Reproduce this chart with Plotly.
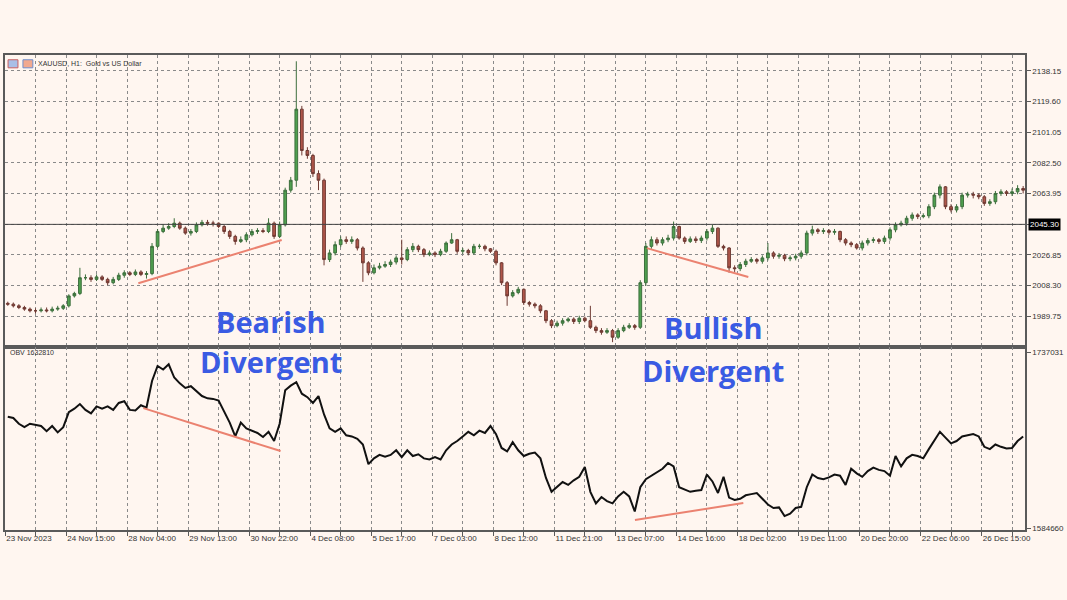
import plotly.graph_objects as go
from plotly.subplots import make_subplots

# ---------------- data (3-hour bars) ----------------
BAR_HOURS = 3
X_LABELS = ["23 Nov 2023", "24 Nov 15:00", "28 Nov 04:00", "29 Nov 13:00", "30 Nov 22:00",
            "4 Dec 08:00", "5 Dec 17:00", "7 Dec 03:00", "8 Dec 12:00", "11 Dec 21:00",
            "13 Dec 07:00", "14 Dec 16:00", "18 Dec 02:00", "19 Dec 11:00", "20 Dec 20:00",
            "22 Dec 06:00", "26 Dec 15:00"]
LABEL_STEP_HOURS = 33

OPEN = [1997.5, 1997, 1996, 1995, 1994, 1993, 1993, 1993.5, 1993, 1994,
        1994.5, 1996, 2002, 2003.5, 2013, 2013, 2012, 2013.5, 2012, 2010,
        2012, 2014.5, 2016, 2015, 2016.5, 2015, 2015.5, 2032, 2041, 2043,
        2044, 2046, 2043, 2040, 2041, 2045, 2046.5, 2046, 2046,
        2044, 2041, 2038, 2035, 2036, 2039, 2041, 2041.5, 2041, 2046,
        2038, 2045, 2066, 2072, 2115, 2090, 2087, 2076, 2072, 2024,
        2028, 2033, 2036, 2035, 2036, 2031, 2022, 2016, 2019, 2020,
        2021, 2022.5, 2025, 2024, 2030, 2032, 2030, 2027, 2028, 2027,
        2029, 2034, 2036, 2029, 2029.5, 2028, 2032, 2032, 2030.5, 2029,
        2022, 2010, 2002, 2004, 2006, 1998, 1997, 1996, 1993, 1987,
        1984, 1985.5, 1987, 1988, 1986.5, 1988.5, 1987, 1983, 1981, 1980,
        1981, 1977, 1981, 1983, 1984, 1983, 2010, 2032, 2036,
        2034, 2036, 2037, 2044, 2037, 2035, 2036.5, 2035.5, 2037, 2041,
        2043, 2032, 2031, 2019, 2018.5, 2021, 2023, 2024, 2023, 2025,
        2028, 2026, 2026.5, 2024.5, 2025, 2026, 2028, 2040, 2042, 2041,
        2041.5, 2040.5, 2041, 2036, 2034, 2033, 2031, 2034, 2035.5, 2036,
        2035, 2037, 2042, 2045, 2046, 2049, 2051, 2050, 2050.5, 2056,
        2063, 2068, 2056, 2054, 2056, 2063, 2063.5, 2063, 2062, 2058,
        2059, 2064, 2065, 2064, 2065, 2067]
HIGH = [1998.5, 1998, 1997, 1996, 1995, 1994.5, 1995, 1995, 1995.5, 1996,
        1997, 2003, 2004.5, 2019, 2015, 2014.5, 2015, 2014.5, 2013, 2013.5,
        2016, 2017.5, 2017, 2018, 2017.5, 2017, 2034, 2042.5, 2045, 2046,
        2049, 2047, 2044, 2042.5, 2046.5, 2048, 2048, 2047.5, 2046.5,
        2045, 2042, 2039, 2038, 2040.5, 2042.5, 2043, 2043, 2049, 2047,
        2047, 2067.5, 2074, 2144, 2117, 2092, 2088, 2078, 2073, 2030,
        2035, 2038, 2038, 2038, 2037, 2032, 2023, 2021, 2022, 2023,
        2024, 2026.5, 2036, 2031.5, 2034, 2033, 2031, 2029.5, 2029, 2030.5,
        2035, 2040, 2036.5, 2031, 2030.5, 2033.5, 2033.5, 2033, 2031, 2030,
        2022.5, 2011, 2005.5, 2007.5, 2006.5, 1999, 1998, 1997, 1993.5, 1988,
        1987, 1988.5, 1989, 1989, 1990, 1989.5, 1996, 1984, 1982.5, 1982.5,
        1982, 1982.5, 1984.5, 1985.5, 1985, 2011.5, 2034, 2038, 2037.5,
        2037.5, 2039, 2047, 2044.5, 2038, 2038, 2038, 2038.5, 2042.5, 2045,
        2043.5, 2033, 2031.5, 2020.5, 2022.5, 2024.5, 2025.5, 2025, 2026.5, 2034,
        2029, 2028, 2027.5, 2026.5, 2027.5, 2029.5, 2041.5, 2044.5, 2043, 2043,
        2042.5, 2042.5, 2041.5, 2037, 2035, 2034, 2035.5, 2037, 2037.5, 2037,
        2038.5, 2043.5, 2046.5, 2047.5, 2050.5, 2052.5, 2052, 2052, 2057.5, 2064.5,
        2069.5, 2068.5, 2057.5, 2057.5, 2064.5, 2065, 2065, 2064, 2063, 2060.5,
        2065.5, 2066.5, 2066, 2067, 2069, 2068.5]
LOW = [1996, 1995, 1994, 1993, 1992, 1991.5, 1992, 1992, 1992, 1993,
       1993.5, 1995, 2001, 2002.5, 2011.5, 2010.5, 2011, 2011, 2008.5, 2009,
       2011, 2013, 2014, 2014, 2014, 2012.5, 2014.5, 2031, 2040, 2042,
       2043, 2042, 2039, 2038.5, 2040, 2044, 2044.5, 2044, 2043,
       2039.5, 2036.5, 2033, 2034, 2034.5, 2038, 2039.5, 2040, 2040, 2036.5,
       2037, 2044, 2064.5, 2068, 2087, 2085, 2074, 2066, 2020.5, 2022.5,
       2026.5, 2031.5, 2033.5, 2033.5, 2029.5, 2010.5, 2014.5, 2015, 2018, 2019,
       2019.5, 2021, 2021, 2023, 2028.5, 2028.5, 2025.5, 2026, 2025.5, 2026,
       2028, 2033.5, 2027.5, 2027.5, 2026.5, 2027, 2030.5, 2029, 2028, 2020.5,
       2008.5, 1996, 2001, 2003, 1996.5, 1995.5, 1994.5, 1991.5, 1985.5, 1982.5,
       1983, 1984, 1986, 1985, 1985, 1986, 1982, 1979.5, 1978.5, 1979,
       1974, 1976, 1980, 1982, 1981.5, 1982, 2008, 2030.5, 2032.5,
       2032.5, 2034.5, 2035.5, 2036, 2033.5, 2034, 2034, 2034, 2035.5, 2039.5,
       2031, 2029.5, 2016, 2016.5, 2017, 2019.5, 2022, 2021.5, 2021.5, 2023.5,
       2024.5, 2024.5, 2023, 2023, 2023.5, 2024.5, 2026.5, 2038.5, 2039.5, 2039.5,
       2039, 2039, 2034.5, 2032.5, 2031.5, 2030, 2029.5, 2032.5, 2034, 2033.5,
       2033.5, 2035.5, 2040.5, 2044, 2044.5, 2047.5, 2048.5, 2049, 2049, 2054.5,
       2061, 2054.5, 2052.5, 2052.5, 2054.5, 2061.5, 2061, 2060.5, 2056.5, 2056.5,
       2057.5, 2062.5, 2062.5, 2062.5, 2063.5, 2064]
CLOSE = [1997, 1996, 1995, 1994, 1993, 1993, 1993.5, 1993, 1994, 1994.5,
         1996, 2002, 2003.5, 2013, 2013, 2012, 2013.5, 2012, 2010, 2012,
         2014.5, 2016, 2015, 2016.5, 2015, 2015.5, 2032, 2041, 2043, 2044,
         2046, 2043, 2040, 2041, 2045, 2046.5, 2046, 2046, 2044,
         2041, 2038, 2035, 2036, 2039, 2041, 2041.5, 2041, 2046, 2038,
         2045, 2066, 2072, 2115, 2090, 2087, 2076, 2072, 2024, 2028,
         2033, 2036, 2035, 2036, 2031, 2022, 2016, 2019, 2020, 2021,
         2022.5, 2025, 2024, 2030, 2032, 2030, 2027, 2028, 2027, 2029,
         2034, 2036, 2029, 2029.5, 2028, 2032, 2032, 2030.5, 2029, 2022,
         2010, 2002, 2004, 2006, 1998, 1997, 1996, 1993, 1987, 1984,
         1985.5, 1987, 1988, 1986.5, 1988.5, 1987, 1983, 1981, 1980, 1981,
         1977, 1981, 1983, 1984, 1983, 2010, 2032, 2036, 2034,
         2036, 2037, 2044, 2037, 2035, 2036.5, 2035.5, 2037, 2041, 2043,
         2032, 2031, 2019, 2018.5, 2021, 2023, 2024, 2023, 2025, 2028,
         2026, 2026.5, 2024.5, 2025, 2026, 2028, 2040, 2042, 2041, 2041.5,
         2040.5, 2041, 2036, 2034, 2033, 2031, 2034, 2035.5, 2036, 2035,
         2037, 2042, 2045, 2046, 2049, 2051, 2050, 2050.5, 2056, 2063,
         2068, 2056, 2054, 2056, 2063, 2063.5, 2063, 2062, 2058, 2059,
         2064, 2065, 2064, 2065, 2067, 2066]
OBV_K = [1681, 1680, 1675, 1672, 1675, 1674, 1673, 1668.5, 1673, 1667.5,
         1672, 1685, 1688, 1692, 1687, 1684, 1690, 1688, 1690, 1687,
         1693, 1694.5, 1687, 1686.5, 1691, 1689, 1712, 1725, 1722, 1726.5,
         1715, 1710, 1706, 1707.5, 1703, 1699, 1697, 1696.5, 1695,
         1686, 1676, 1664, 1676, 1671, 1669, 1667, 1663.5, 1668, 1660,
         1675, 1704, 1708, 1711, 1701, 1698, 1693, 1699, 1683, 1671,
         1668, 1671, 1665, 1664, 1662, 1657, 1640, 1645, 1648, 1646.5,
         1648, 1652, 1646, 1652, 1647, 1648.5, 1645, 1644, 1646, 1644,
         1652, 1657, 1660, 1664, 1668, 1665, 1669, 1667, 1673, 1666,
         1654, 1651, 1659, 1652, 1647, 1649, 1650, 1645, 1628, 1616,
         1620, 1624.5, 1622, 1626, 1629, 1637.5, 1616, 1606, 1611.5, 1608,
         1606, 1612, 1616, 1612, 1599, 1620, 1627, 1630, 1633,
         1636, 1641, 1638, 1620, 1618, 1616, 1617, 1617.5, 1631, 1625,
         1615, 1629, 1611, 1609, 1610, 1613, 1614, 1615, 1610, 1605,
         1602, 1602.5, 1595, 1597, 1602, 1603, 1620, 1631, 1628, 1627,
         1628.5, 1631, 1630, 1622, 1636, 1632, 1629, 1634, 1637, 1635,
         1634, 1630, 1647, 1638, 1645, 1648, 1647, 1645, 1653, 1660,
         1668, 1663, 1658, 1660, 1664, 1665, 1666, 1664, 1655, 1653,
         1657, 1655, 1653.5, 1654, 1660, 1664]

PRICE_LEVELS = [2138.15, 2119.60, 2101.05, 2082.50, 2063.95, 2045.40, 2026.85, 2008.30, 1989.75]
PRICE_LABELS = ["2138.15", "2119.60", "2101.05", "2082.50", "2063.95", "", "2026.85", "2008.30", "1989.75"]
CURRENT_PRICE = 2045.30
OBV_LEVELS = [1737031, 1584660]
OBV_CURRENT = 1632810

# divergence lines (hour, value)
PRICE_LINE_BEAR = ([72.1, 149.6], [2009.7, 2035.8])
PRICE_LINE_BULL = ([347.0, 401.9], [2030.9, 2013.4])
OBV_LINE_BEAR = ([74.8, 149.0], [1688550, 1651330])
OBV_LINE_BULL = ([340.6, 399.2], [1591590, 1606310])

# ---------------- figure ----------------
n = len(CLOSE)
x = [BAR_HOURS * i + BAR_HOURS / 2 for i in range(n)]
obv = [v * 1000 for v in OBV_K]

grid_vals = [LABEL_STEP_HOURS / 2 * k for k in range(2 * len(X_LABELS))]
grid_text = []
for k in range(len(grid_vals)):
    grid_text.append(X_LABELS[k // 2] if k % 2 == 0 else "")

BG = "#FFF6F0"
GRID = "#8a8a8a"
FRAME = "#5a5a5a"
TREND = "#EB8270"
BLUE = "#3A5BE3"
TICKFONT = dict(family="Liberation Sans, Arial, sans-serif", size=8, color="#333333")

fig = make_subplots(rows=2, cols=1, shared_xaxes=True, vertical_spacing=0,
                    row_heights=[0.615, 0.385])

fig.add_trace(go.Candlestick(
    x=x, open=OPEN, high=HIGH, low=LOW, close=CLOSE,
    increasing=dict(line=dict(color="#3d6f3d", width=1), fillcolor="#4fa04f"),
    decreasing=dict(line=dict(color="#6f3a33", width=1), fillcolor="#b0564a"),
    whiskerwidth=0, showlegend=False, hoverinfo="skip"), row=1, col=1)

fig.add_trace(go.Scatter(x=PRICE_LINE_BEAR[0], y=PRICE_LINE_BEAR[1], mode="lines",
                         line=dict(color=TREND, width=2), showlegend=False), row=1, col=1)
fig.add_trace(go.Scatter(x=PRICE_LINE_BULL[0], y=PRICE_LINE_BULL[1], mode="lines",
                         line=dict(color=TREND, width=2), showlegend=False), row=1, col=1)

fig.add_trace(go.Scatter(x=x, y=obv, mode="lines", line=dict(color="#111111", width=2),
                         showlegend=False), row=2, col=1)
fig.add_trace(go.Scatter(x=OBV_LINE_BEAR[0], y=OBV_LINE_BEAR[1], mode="lines",
                         line=dict(color=TREND, width=2), showlegend=False), row=2, col=1)
fig.add_trace(go.Scatter(x=OBV_LINE_BULL[0], y=OBV_LINE_BULL[1], mode="lines",
                         line=dict(color=TREND, width=2), showlegend=False), row=2, col=1)

x_range = [0, 551.5]
common_x = dict(range=x_range, tickmode="array", tickvals=grid_vals, ticktext=grid_text,
                showgrid=True, gridcolor=GRID, griddash="dot", gridwidth=1,
                showline=True, mirror=True, linecolor=FRAME, linewidth=1.5,
                zeroline=False, tickfont=TICKFONT)
fig.update_xaxes(**common_x, showticklabels=False, ticks="", row=1, col=1)
fig.update_xaxes(**common_x, showticklabels=True, ticks="outside", ticklen=4,
                 tickcolor=FRAME, ticklabelposition="outside right", row=2, col=1)
fig.update_layout(xaxis_rangeslider_visible=False)

fig.update_yaxes(range=[1971.0, 2147.8], side="right", tickmode="array",
                 tickvals=PRICE_LEVELS, ticktext=PRICE_LABELS,
                 showgrid=True, gridcolor=GRID, griddash="dot", gridwidth=1,
                 showline=True, mirror=True, linecolor=FRAME, linewidth=1.5,
                 ticks="outside", ticklen=4, tickcolor=FRAME, zeroline=False,
                 tickfont=TICKFONT, row=1, col=1)
fig.update_yaxes(range=[1582930, 1741360], side="right", tickmode="array",
                 tickvals=OBV_LEVELS, ticktext=[str(v) for v in OBV_LEVELS],
                 showgrid=False, showline=True, mirror=True, linecolor=FRAME, linewidth=1.5,
                 ticks="outside", ticklen=4, tickcolor=FRAME, zeroline=False,
                 tickfont=TICKFONT, row=2, col=1)

# current price line + label
fig.add_shape(type="line", xref="x domain", yref="y", x0=0, x1=1,
              y0=CURRENT_PRICE, y1=CURRENT_PRICE, line=dict(color="#444444", width=1))

annotations = [
    dict(xref="paper", yref="y", x=1, y=CURRENT_PRICE, xanchor="left", yanchor="middle",
         xshift=3, text="%.2f" % CURRENT_PRICE, showarrow=False, bgcolor="#000000",
         font=dict(family="Liberation Sans, Arial", size=8, color="#ffffff"), borderpad=1),
    dict(xref="paper", yref="paper", x=0.0302, y=0.983, xanchor="left", yanchor="middle",
         text="XAUUSD, H1:  Gold vs US Dollar", showarrow=False,
         font=dict(family="Liberation Sans, Arial", size=7, color="#333333")),
    dict(xref="paper", yref="paper", x=0.003, y=0.3747, xanchor="left", yanchor="middle",
         text="OBV %d" % OBV_CURRENT, showarrow=False,
         font=dict(family="Liberation Sans, Arial", size=7, color="#333333")),
]
BIG = dict(family="Open Sans, Noto Sans, sans-serif", size=29, color=BLUE)
for txt, xp, yp in [("Bearish", 0.2605, 0.4379), ("Divergent", 0.2605, 0.3537),
                    ("Bullish", 0.6946, 0.4253), ("Divergent", 0.6946, 0.3368)]:
    annotations.append(dict(xref="paper", yref="paper", x=xp, y=yp, xanchor="center",
                            yanchor="middle", text="<b>%s</b>" % txt, showarrow=False, font=BIG))

# tiny header icons
shapes = [
    dict(type="rect", xref="paper", yref="paper", x0=0.003, x1=0.0127, y0=0.973, y1=0.99,
         line=dict(color="#c96060", width=1), fillcolor="#a9bfe6"),
    dict(type="rect", xref="paper", yref="paper", x0=0.0176, x1=0.0273, y0=0.973, y1=0.99,
         line=dict(color="#6f8fcf", width=1), fillcolor="#f2a98f"),
]
for s in shapes:
    fig.add_shape(**s)

fig.update_layout(
    width=1067, height=600,
    margin=dict(l=3, r=39, t=55, b=70),
    paper_bgcolor=BG, plot_bgcolor=BG,
    annotations=annotations,
    showlegend=False,
    hovermode=False,
)

fig.write_html("out.html",
               config={"displayModeBar": False},
               post_script="document.body.style.margin='0px';"
                           "document.body.style.background='%s';" % BG)
